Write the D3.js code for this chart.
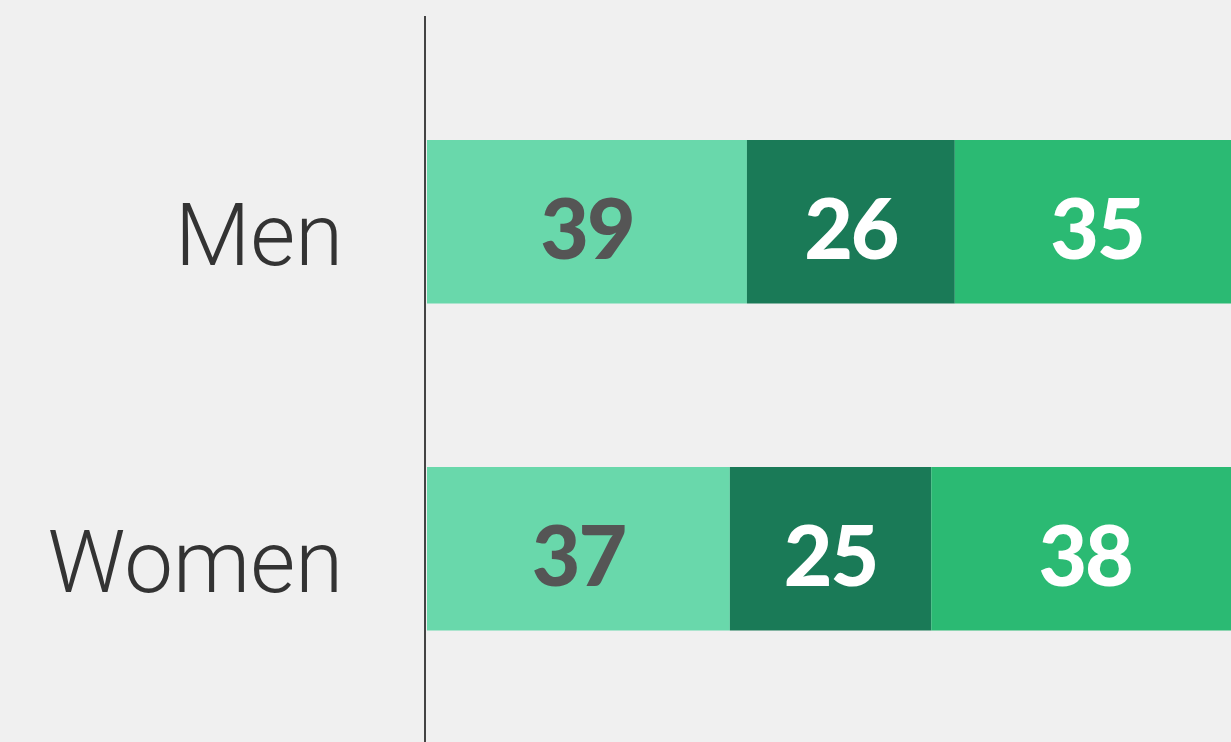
<!DOCTYPE html>
<html>
<head>
<meta charset="utf-8">
<script src="https://cdn.jsdelivr.net/npm/d3@7"></script>
<style>
  html, body { margin: 0; padding: 0; background: #f0f0f0; overflow: hidden; }
</style>
</head>
<body>
<div id="chart-area"></div>
<script>
// Stacked shares by sex
var groups = ["Men", "Women"];
var segments = ["a", "b", "c"];
var menValues = [39.4, 25.6, 35.0];
var womenValues = [37.3, 24.8, 37.9];
var menLabels = ["39", "26", "35"];
var womenLabels = ["37", "25", "38"];

var colors = ["#69d8ab", "#1a7a57", "#2bba73"];
var textColors = ["#555555", "#ffffff", "#ffffff"];

var W = 1231, H = 742;
var margin = { left: 427, right: -8, top: 16, bottom: 0 };
var width = W - margin.left - margin.right,
    height = H - margin.top - margin.bottom;

var svg = d3.select("#chart-area").append("svg")
    .attr("width", W)
    .attr("height", H);

svg.append("rect").attr("width", W).attr("height", H).attr("fill", "#f0f0f0");

var g = svg.append("g").attr("transform", "translate(" + margin.left + ", " + margin.top + ")");

var x = d3.scaleLinear().domain([0, 100]).range([0, width]);
// bars 163px tall, 327px apart
var y = d3.scaleBand().domain(groups).range([124, 614.5]).paddingInner(0.5).paddingOuter(0);

var rows = [
    { group: "Men", values: menValues, labels: menLabels },
    { group: "Women", values: womenValues, labels: womenLabels }
];

rows.forEach(function(row) {
    var data = [];
    var acc = 0;
    row.values.forEach(function(v, i) {
        data.push({ key: segments[i], x0: acc, x1: acc + v, label: row.labels[i], i: i });
        acc += v;
    });
    var rg = g.append("g");
    rg.selectAll("rect").data(data).enter().append("rect")
        .attr("x", function(d) { return x(d.x0); })
        .attr("width", function(d) { return x(d.x1) - x(d.x0); })
        .attr("y", y(row.group))
        .attr("height", y.bandwidth())
        .attr("fill", function(d) { return colors[d.i]; });
    rg.selectAll("text").data(data).enter().append("text")
        .attr("x", function(d) { return (x(d.x0) + x(d.x1)) / 2; })
        .attr("y", y(row.group) + y.bandwidth() / 2 + 37)
        .attr("text-anchor", "middle")
        .attr("font-family", "Lato, 'Open Sans', sans-serif")
        .attr("font-weight", "900")
        .attr("font-size", "84px")
        .attr("letter-spacing", "-2px")
        .style("fill", function(d) { return textColors[d.i]; })
        .text(function(d) { return d.label; });
});

// Y labels
g.selectAll(".y-label").data(groups).enter().append("text")
    .attr("class", "y-label")
    .attr("x", -84)
    .attr("y", function(d) { return y(d) + y.bandwidth() / 2 + 43; })
    .attr("text-anchor", "end")
    .attr("font-family", "Roboto, sans-serif")
    .attr("font-weight", "300")
    .attr("font-size", "87px")
    .style("fill", "#333333")
    .text(function(d) { return d; });

// axis line
g.append("line")
    .attr("x1", -2).attr("x2", -2)
    .attr("y1", 0).attr("y2", height)
    .attr("stroke", "#444444")
    .attr("stroke-width", 2);
</script>
</body>
</html>
